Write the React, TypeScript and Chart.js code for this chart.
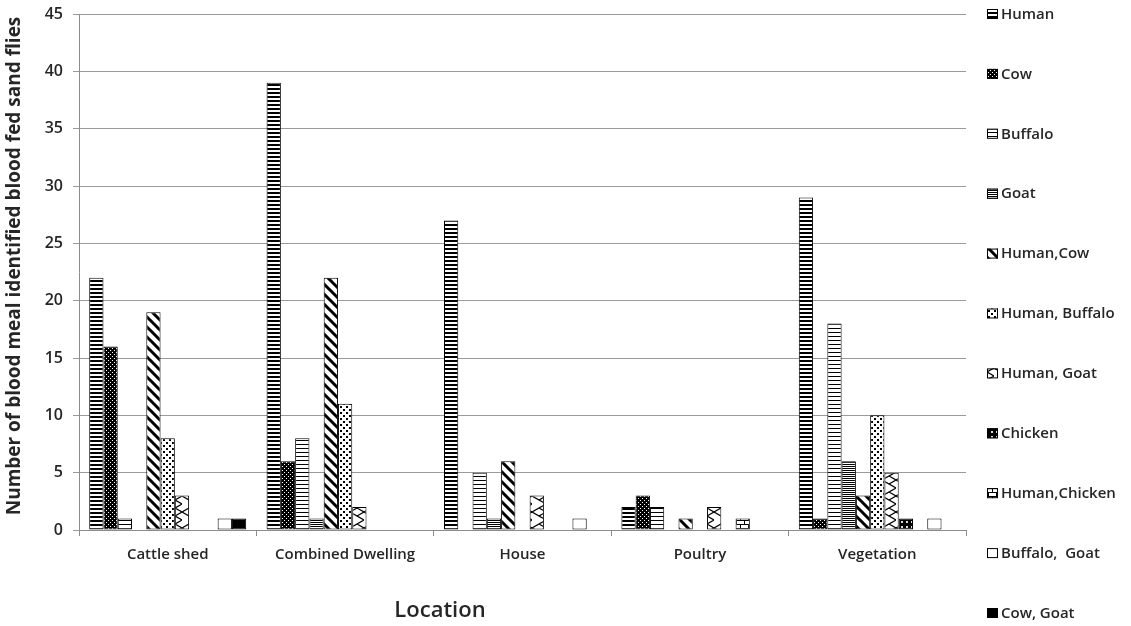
import React, { useEffect, useRef } from 'react';
import { Chart, registerables } from 'chart.js';

Chart.register(...registerables);

// ---------- data ----------
const categories = ['Cattle shed', 'Combined Dwelling', 'House', 'Poultry', 'Vegetation'];
const seriesNames = [
  'Human',
  'Cow',
  'Buffalo',
  'Goat',
  'Human,Cow',
  'Human, Buffalo',
  'Human, Goat',
  'Chicken',
  'Human,Chicken',
  'Buffalo,  Goat',
  'Cow, Goat',
];
const human = [22, 39, 27, 2, 29];
const cow = [16, 6, 0, 3, 1];
const buffalo = [1, 8, 5, 2, 18];
const goat = [0, 1, 1, 0, 6];
const humanCow = [19, 22, 6, 1, 3];
const humanBuffalo = [8, 11, 0, 0, 10];
const humanGoat = [3, 2, 3, 2, 5];
const chicken = [0, 0, 0, 0, 1];
const humanChicken = [0, 0, 0, 1, 0];
const buffaloGoat = [1, 0, 1, 0, 1];
const cowGoat = [1, 0, 0, 0, 0];
const seriesValues = [human, cow, buffalo, goat, humanCow, humanBuffalo, humanGoat, chicken, humanChicken, buffaloGoat, cowGoat];
const yMin = 0;
const yMax = 45;
const yStep = 5;
const xTitle = 'Location';
const yTitle = 'Number of blood meal identified blood fed sand flies';

// ---------- styles ----------
const FONT = "'Open Sans', 'Liberation Sans', sans-serif";
const TEXT = '#262626';
const patternKinds = [
  'hThick', 'darkDots', 'hThin', 'hDense', 'diag', 'whiteDots', 'zigzag', 'darkDots2', 'brick', 'white', 'black',
];

type Draw = (g: CanvasRenderingContext2D, w: number, h: number) => void;
function tile(w: number, h: number, draw: Draw): HTMLCanvasElement {
  const c = document.createElement('canvas');
  c.width = w;
  c.height = h;
  const g = c.getContext('2d')!;
  g.fillStyle = '#fff';
  g.fillRect(0, 0, w, h);
  g.fillStyle = '#000';
  g.strokeStyle = '#000';
  draw(g, w, h);
  return c;
}

function makeTile(kind: string): HTMLCanvasElement {
  switch (kind) {
    case 'hThick':
      return tile(8, 4, (g) => g.fillRect(0, 0, 8, 2));
    case 'darkDots':
      return tile(4, 4, (g) => {
        g.fillRect(0, 0, 4, 4);
        g.fillStyle = '#fff';
        g.fillRect(0, 0, 1, 1);
        g.fillRect(2, 2, 1, 1);
      });
    case 'darkDots2':
      return tile(5, 5, (g) => {
        g.fillRect(0, 0, 5, 5);
        g.fillStyle = '#ddd';
        g.fillRect(1, 1, 2, 2);
      });
    case 'hThin':
      return tile(8, 4, (g) => g.fillRect(0, 0, 8, 1));
    case 'hDense':
      return tile(4, 2, (g) => g.fillRect(0, 0, 4, 1));
    case 'diag':
      return tile(10, 10, (g) => {
        g.lineWidth = 3;
        g.beginPath();
        g.moveTo(-2, -2);
        g.lineTo(12, 12);
        g.moveTo(-12, -2);
        g.lineTo(2, 12);
        g.moveTo(8, -2);
        g.lineTo(22, 12);
        g.stroke();
      });
    case 'whiteDots':
      return tile(6, 6, (g) => {
        g.fillRect(1, 1, 2, 2);
        g.fillRect(4, 4, 2, 2);
      });
    case 'zigzag':
      return tile(14, 16, (g) => {
        g.lineWidth = 1.2;
        g.beginPath();
        g.moveTo(0, 0);
        g.lineTo(14, 8);
        g.lineTo(0, 16);
        g.moveTo(14, 0);
        g.lineTo(7, 4);
        g.moveTo(14, 16);
        g.lineTo(7, 12);
        g.stroke();
      });
    case 'brick':
      return tile(8, 8, (g) => {
        g.fillRect(0, 0, 8, 1);
        g.fillRect(0, 4, 8, 1);
        g.fillRect(0, 0, 1, 4);
        g.fillRect(4, 4, 1, 4);
      });
    case 'black':
      return tile(2, 2, (g) => g.fillRect(0, 0, 2, 2));
    default:
      return tile(2, 2, () => {});
  }
}

export default function App() {
  const ref = useRef<HTMLCanvasElement | null>(null);

  useEffect(() => {
    const canvas = ref.current!;
    const ctx = canvas.getContext('2d')!;
    const patterns = patternKinds.map((k) => ctx.createPattern(makeTile(k), 'repeat')!);

    const decorPlugin = {
      id: 'decor',
      afterDraw(chart: any) {
        const c = chart.ctx as CanvasRenderingContext2D;
        c.save();
        // side legend
        const top = 14;
        const gap = 59.9;
        seriesNames.forEach((name, i) => {
          const y = top + i * gap;
          c.fillStyle = patterns[i];
          c.fillRect(987, y - 5, 11, 10);
          c.strokeStyle = '#000';
          c.lineWidth = 1;
          c.strokeRect(987.5, y - 4.5, 10, 9);
          c.fillStyle = TEXT;
          c.font = `600 15px ${FONT}`;
          c.textBaseline = 'middle';
          c.textAlign = 'left';
          c.fillText(name, 1001, y + 0.5);
        });
        // x title
        c.fillStyle = TEXT;
        c.font = `600 22px ${FONT}`;
        c.textAlign = 'center';
        c.textBaseline = 'middle';
        c.fillText(xTitle, 440, 611);
        // y title
        c.translate(15, 266);
        c.rotate(-Math.PI / 2);
        c.font = `bold 19px ${FONT}`;
        c.fillText(yTitle, 0, 0);
        c.restore();
      },
    };

    const chart = new Chart(ctx, {
      type: 'bar',
      data: {
        labels: categories,
        datasets: seriesNames.map((name, i) => ({
          label: name,
          data: seriesValues[i],
          backgroundColor: patterns[i],
          borderColor: '#000',
          borderWidth: 1,
          borderSkipped: false,
          categoryPercentage: 0.885,
          barPercentage: 1,
        })),
      },
      options: {
        responsive: false,
        animation: false,
        layout: { padding: { top: 14, right: 165, bottom: 0, left: 0 } },
        plugins: {
          legend: { display: false },
          tooltip: { enabled: false },
        },
        scales: {
          x: {
            grid: {
              drawOnChartArea: false,
              drawTicks: true,
              tickLength: 6,
              color: '#8c8c8c',
              offset: true,
            },
            border: { color: '#8c8c8c', width: 1 },
            ticks: {
              color: TEXT,
              font: { family: FONT, size: 15, weight: 600 },
              padding: 10,
              maxRotation: 0,
            },
            afterFit(scale: any) {
              scale.height = 96;
              scale.paddingLeft = 0;
              scale.paddingRight = 0;
            },
          },
          y: {
            min: yMin,
            max: yMax,
            ticks: {
              stepSize: yStep,
              color: TEXT,
              font: { family: FONT, size: 16, weight: 600 },
              padding: 10,
            },
            grid: {
              color: '#9a9a9a',
              lineWidth: 1,
              tickLength: 6,
            },
            border: { color: '#8c8c8c', width: 1 },
            afterFit(scale: any) {
              scale.width = 79;
              scale.paddingTop = 0;
              scale.paddingBottom = 0;
            },
          },
        },
      },
      plugins: [decorPlugin],
    });

    return () => chart.destroy();
  }, []);

  return (
    <div style={{ position: 'fixed', left: 0, top: 0, width: 1131, height: 626, background: '#fff' }}>
      <canvas ref={ref} width={1131} height={626} style={{ display: 'block' }} />
    </div>
  );
}
